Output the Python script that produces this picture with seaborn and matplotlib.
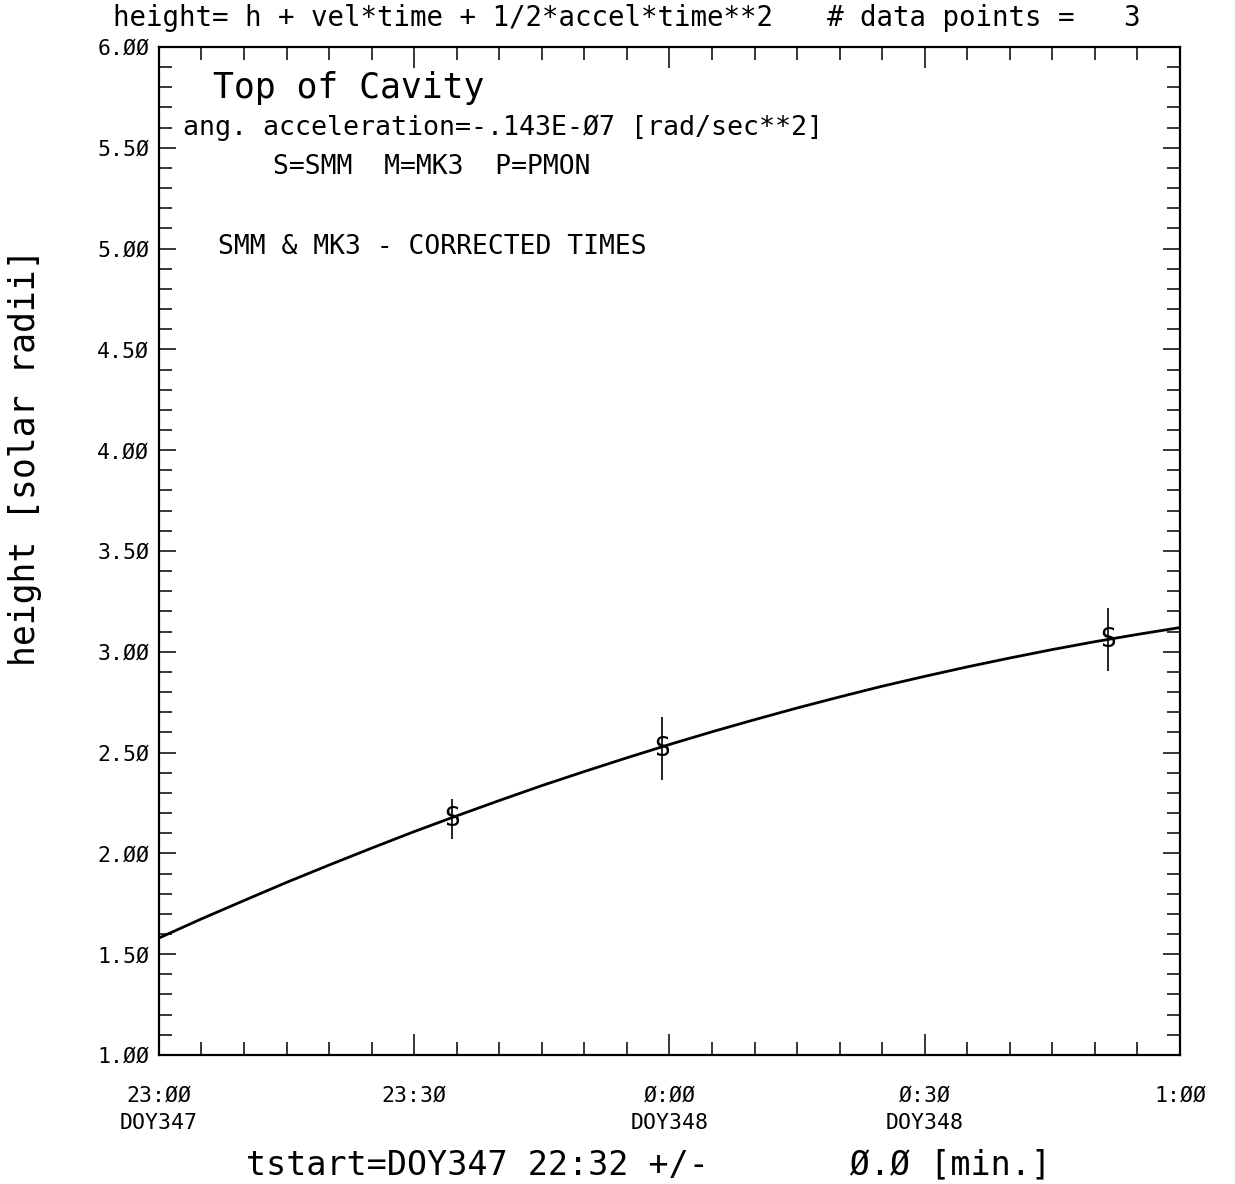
import matplotlib
matplotlib.use("Agg")
import matplotlib.pyplot as plt
import seaborn as sns
import pandas as pd
from matplotlib.ticker import FixedLocator, MultipleLocator

# ---- data (time in minutes after 23:00 DOY347) ----
obs_time = [34.5, 59.1, 111.6]
obs_height = [2.17, 2.52, 3.06]
obs_err = [0.10, 0.155, 0.155]
obs_source = ["S", "S", "S"]

fit_time = [0, 5, 10, 15, 20, 25, 30, 35, 40, 45, 50, 55, 60,
            65, 70, 75, 80, 85, 90, 95, 100, 105, 110, 115, 120]
fit_height = [1.580, 1.675, 1.766, 1.856, 1.942, 2.026, 2.108, 2.186, 2.262,
              2.336, 2.406, 2.474, 2.540, 2.603, 2.663, 2.721, 2.776, 2.829,
              2.878, 2.925, 2.969, 3.011, 3.050, 3.086, 3.120]

x_major = [0, 30, 60, 90, 120]
x_labels = ["23:ØØ\nDOY347", "23:3Ø", "Ø:ØØ\nDOY348", "Ø:3Ø\nDOY348", "1:ØØ"]
y_major = [1.0, 1.5, 2.0, 2.5, 3.0, 3.5, 4.0, 4.5, 5.0, 5.5, 6.0]
y_labels = ["1.ØØ", "1.5Ø", "2.ØØ", "2.5Ø", "3.ØØ", "3.5Ø", "4.ØØ",
            "4.5Ø", "5.ØØ", "5.5Ø", "6.ØØ"]

fit_df = pd.DataFrame({"time": fit_time, "height": fit_height})

sns.set_style("white")
plt.rcParams["font.family"] = ["DejaVu Sans Mono", "DejaVu Sans"]
plt.rcParams["text.color"] = "black"
plt.rcParams["axes.labelcolor"] = "black"
plt.rcParams["xtick.color"] = "black"
plt.rcParams["ytick.color"] = "black"

fig = plt.figure(figsize=(12.35, 11.84), dpi=100)
ax = fig.add_axes([0.1287, 0.1090, 0.8267, 0.8513])

sns.lineplot(data=fit_df, x="time", y="height", ax=ax, color="black",
             linewidth=2.0, sort=False)
ax.errorbar(obs_time, obs_height, yerr=obs_err, fmt="none", ecolor="black",
            elinewidth=1.2, capsize=0)
for t, h, s in zip(obs_time, obs_height, obs_source):
    ax.text(t, h, s, ha="center", va="center", fontsize=19, color="black")

ax.set_xlim(0, 120)
ax.set_ylim(1.0, 6.0)
ax.xaxis.set_major_locator(FixedLocator(x_major))
ax.set_xticklabels(x_labels, linespacing=1.45)
ax.xaxis.set_minor_locator(MultipleLocator(5))
ax.yaxis.set_major_locator(FixedLocator(y_major))
ax.set_yticklabels(y_labels)
ax.yaxis.set_minor_locator(MultipleLocator(0.1))

ax.tick_params(axis="both", which="both", direction="in", top=True,
               right=True, bottom=True, left=True, color="black",
               labelcolor="black")
ax.tick_params(axis="x", which="major", length=15, width=1.1,
               labelsize=15.5, pad=22)
ax.tick_params(axis="x", which="minor", length=9.5, width=1.1)
ax.tick_params(axis="y", which="major", length=12.5, width=1.1,
               labelsize=15.5, pad=7)
ax.tick_params(axis="y", which="minor", length=9.5, width=1.1)
for sp in ax.spines.values():
    sp.set_visible(True)
    sp.set_color("black")
    sp.set_linewidth(1.6)

ax.set_xlabel("")
ax.set_ylabel("height [solar radii]", fontsize=25, color="black")
ax.yaxis.label.set_va("center")
ax.yaxis.set_label_coords(-0.131, 0.593)

# in-plot annotations
ax.text(0.053, 0.959, "Top of Cavity", transform=ax.transAxes,
        fontsize=25, ha="left", va="center")
ax.text(0.0235, 0.9196, "ang. acceleration=-.143E-Ø7 [rad/sec**2]",
        transform=ax.transAxes, fontsize=19.2, ha="left", va="center")
ax.text(0.1117, 0.881, "S=SMM  M=MK3  P=PMON", transform=ax.transAxes,
        fontsize=19, ha="left", va="center")
ax.text(0.0578, 0.8016, "SMM & MK3 - CORRECTED TIMES",
        transform=ax.transAxes, fontsize=19, ha="left", va="center")

# header and footer
fig.text(0.0915, 0.985, "height= h + vel*time + 1/2*accel*time**2",
         fontsize=19.8, ha="left", va="center")
fig.text(0.670, 0.985, "# data points =   3", fontsize=19.8, ha="left",
         va="center")
fig.text(0.5255, 0.016, "tstart=DOY347 22:32 +/-       Ø.Ø [min.]",
         fontsize=24, ha="center", va="center")

fig.savefig("out.png", dpi=100, facecolor="white")
